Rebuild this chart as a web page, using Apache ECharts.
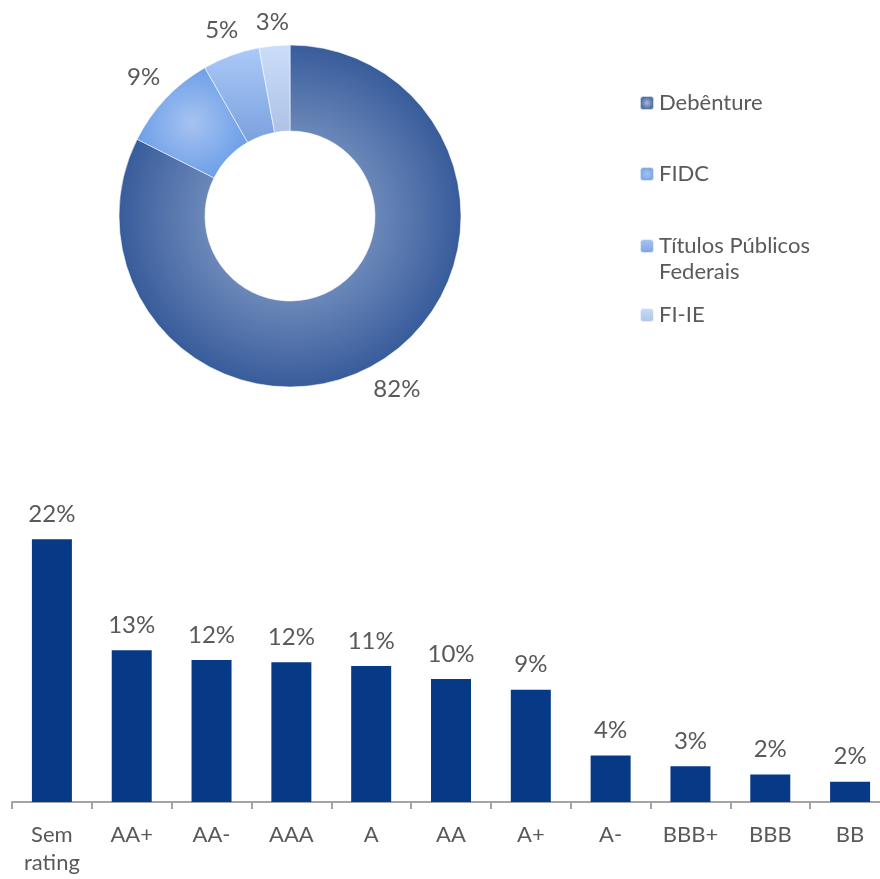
<!DOCTYPE html>
<html>
<head>
<meta charset="utf-8">
<script src="https://cdn.jsdelivr.net/npm/echarts@6/dist/echarts.min.js"></script>
<style>
  html, body { margin: 0; padding: 0; background: #fff; overflow: hidden; }
  #chart { width: 890px; height: 879px; }
</style>
</head>
<body>
<div id="chart"></div>
<script>
// Composição da carteira por tipo de ativo (%)
const assetTypes = ['Debênture', 'FIDC', 'Títulos Públicos Federais', 'FI-IE'];
const assetShares = [82.4, 9.3, 5.4, 2.9];

// Distribuição por rating (%)
const ratings = ['Sem rating', 'AA+', 'AA-', 'AAA', 'A', 'AA', 'A+', 'A-', 'BBB+', 'BBB', 'BB'];
const ratingShares = [22.0, 12.7, 11.9, 11.7, 11.4, 10.3, 9.4, 3.9, 3.0, 2.3, 1.7];

const TEXT = '#595959';
const FONT = 'Lato, "Open Sans", sans-serif';
const PIE_CENTER = [290, 216];
const PIE_RADIUS = [85, 171];

const sliceColors = [
  { type: 'radial', x: 0.5, y: 0.5, r: 0.5,
    colorStops: [{ offset: 0, color: '#a9bbdc' }, { offset: 0.5, color: '#6a87b8' }, { offset: 1, color: '#385c9b' }] },
  { type: 'radial', x: 0.5, y: 0.5, r: 0.6,
    colorStops: [{ offset: 0, color: '#a6c3f1' }, { offset: 1, color: '#6399e6' }] },
  { type: 'linear', x: 0, y: 0, x2: 0, y2: 1,
    colorStops: [{ offset: 0, color: '#abc9f9' }, { offset: 1, color: '#7aa1dd' }] },
  { type: 'linear', x: 0, y: 0, x2: 0, y2: 1,
    colorStops: [{ offset: 0, color: '#cbddfa' }, { offset: 1, color: '#adc2e6' }] }
];

const pieTotal = assetShares.reduce((a, b) => a + b, 0);

// label centred on the slice's mid-angle, just outside the ring
function pieLabelLayout(params) {
  const i = params.dataIndex;
  let before = 0;
  for (let k = 0; k < i; k++) before += assetShares[k];
  const mid = (before + assetShares[i] / 2) / pieTotal * Math.PI * 2;
  const sx = Math.sin(mid), cy = -Math.cos(mid);
  const w = params.labelRect.width, h = params.labelRect.height;
  const d = PIE_RADIUS[1] + 10 + Math.abs(sx) * w / 2 + Math.abs(cy) * h / 2;
  return {
    x: PIE_CENTER[0] + d * sx,
    y: PIE_CENTER[1] + d * cy,
    align: 'center',
    verticalAlign: 'middle'
  };
}

function legendFor(name, top, extra) {
  return Object.assign({
    orient: 'vertical',
    left: 639,
    top: top,
    padding: 0,
    itemWidth: 14,
    itemHeight: 14,
    itemGap: 5,
    selectedMode: false,
    data: [name],
    textStyle: { color: TEXT, fontSize: 22, fontFamily: FONT, lineHeight: 26 }
  }, extra || {});
}

const chart = echarts.init(document.getElementById('chart'), null, { renderer: 'canvas' });

chart.setOption({
  animation: false,
  backgroundColor: '#ffffff',
  textStyle: { fontFamily: FONT },
  legend: [
    legendFor(assetTypes[0], 90),
    legendFor(assetTypes[1], 161),
    // leading blank line keeps the marker level with the first line of text
    legendFor(assetTypes[2], 207, {
      formatter: n => '\n' + n.replace('Públicos ', 'Públicos\n')
    }),
    legendFor(assetTypes[3], 302)
  ],
  grid: { left: 12, right: 0, top: 503.5, bottom: 77, containLabel: false, outerBoundsMode: 'none' },
  xAxis: {
    type: 'category',
    data: ratings,
    axisLine: { lineStyle: { color: '#a3a3a3', width: 2 } },
    axisTick: { show: true, length: 7, lineStyle: { color: '#a3a3a3', width: 2 } },
    axisLabel: {
      interval: 0,
      margin: 19,
      color: TEXT,
      fontSize: 22,
      lineHeight: 28,
      fontFamily: FONT,
      formatter: v => v.replace(' ', '\n')
    }
  },
  yAxis: {
    type: 'value',
    min: 0,
    max: 25,
    show: false,
    splitLine: { show: false }
  },
  series: [
    {
      type: 'pie',
      center: PIE_CENTER,
      radius: PIE_RADIUS,
      startAngle: 90,
      clockwise: true,
      avoidLabelOverlap: false,
      itemStyle: { borderColor: 'rgba(255,255,255,0.7)', borderWidth: 0.8 },
      label: {
        show: true,
        position: 'outside',
        color: TEXT,
        fontSize: 24,
        fontFamily: FONT,
        formatter: p => Math.round(p.value) + '%'
      },
      labelLine: { show: false },
      labelLayout: pieLabelLayout,
      emphasis: { disabled: true },
      data: assetTypes.map((n, i) => ({ name: n, value: assetShares[i], itemStyle: { color: sliceColors[i] } }))
    },
    {
      type: 'bar',
      data: ratingShares,
      barWidth: 40,
      itemStyle: { color: '#063a87' },
      label: {
        show: true,
        position: 'top',
        distance: 13,
        color: TEXT,
        fontSize: 24,
        fontFamily: FONT,
        formatter: p => Math.round(p.value) + '%'
      },
      emphasis: { disabled: true }
    }
  ]
});
</script>
</body>
</html>
